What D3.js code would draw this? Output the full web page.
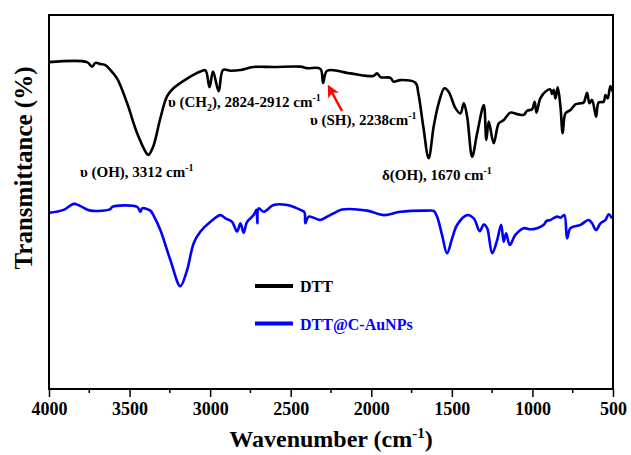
<!DOCTYPE html>
<html>
<head>
<meta charset="utf-8">
<script src="https://cdn.jsdelivr.net/npm/d3@7/dist/d3.min.js"></script>
<style>
  body { margin: 0; background: #fff; }
  text { font-family: "Liberation Serif", "Times New Roman", serif; font-weight: bold; }
</style>
</head>
<body>
<script>
// DTT spectrum (wavenumber cm-1, transmittance %)
var dttWave = [4000,3764,3733,3712,3681,3650,3619,3577,3515,3453,3391,3383,3352,3309,3267,3228,3143,3060,3029,3004,2982,2947,2920,2874,2812,2732,2607,2440,2398,2316,2299,2274,2130,1987,1964,1943,1881,1863,1819,1726,1708,1677,1644,1613,1582,1546,1520,1478,1447,1426,1405,
  1374,1343,1302,1286,1271,1240,1209,1178,1137,1095,1054,1033,1002,986,975,951,920,889,878,868,857,843,826,812,795,764,733,702,682,661,646,630,605,589,558,547,533,516,502];
var dttT = [87.4,87.4,86.2,87.2,86.9,86.6,85.3,83.0,76.4,68.4,62.8,62.6,65.0,72.4,78.3,80.4,83.0,84.9,85.2,80.7,84.9,79.6,85.3,85.1,85.3,86.1,86.1,86.2,85.8,85.6,81.8,85.1,84.4,83.7,84.4,83.4,83.2,82.2,82.6,81.9,79.1,70.1,61.7,70.1,76.4,80.4,79.5,75.1,73.7,76.4,72.8,
  62.1,68.4,75.9,66.6,71.5,65.7,71.0,71.9,73.9,73.5,73.3,74.4,74.8,76.8,73.9,77.7,79.5,80.1,78.9,80.0,77.7,80.7,75.5,68.4,73.7,74.6,76.1,76.4,76.6,79.2,76.4,77.3,72.8,76.6,76.8,78.6,77.7,81.0,79.5];

// DTT@C-AuNPs spectrum
var auWave = [4000,3909,3847,3805,3743,3619,3608,3453,3433,3422,3371,3350,3309,3247,3185,3143,3102,3060,2998,2936,2905,2864,2833,2812,2792,2771,2730,2713,2707,2699,2668,2606,2522,2440,2415,2409,2388,2316,2274,2233,2181,2026,1923,1819,1654,
  1613,1592,1561,1530,1498,1467,1405,1364,1327,1302,1281,1250,1219,1194,1178,1163,1141,1106,1054,1013,971,930,913,889,847,826,802,785,764,702,651,630,605,578,547,527,505];
var auT = [47.1,47.9,49.5,48.9,47.7,48.1,48.7,48.7,47.4,48.3,47.7,46.3,42.5,34.5,27.5,31.8,39.0,42.1,44.7,46.5,45.6,44.7,42.1,44.3,41.8,44.7,46.5,47.9,44.3,48.3,47.4,49.2,49.2,47.9,47.3,44.3,46.1,45.2,46.1,47.0,48.0,47.7,46.5,47.4,47.7,
  47.6,46.1,41.2,36.3,40.3,43.9,46.5,45.6,42.2,44.0,43.0,36.3,39.8,43.9,39.4,41.6,38.5,41.2,43.0,42.7,43.0,43.9,44.9,45.2,46.1,45.8,46.5,40.3,43.0,43.9,45.2,44.3,42.5,44.3,45.2,46.7,45.6];

var xTicks = [4000, 3500, 3000, 2500, 2000, 1500, 1000, 500];
var xMinorTicks = [3750, 3250, 2750, 2250, 1750, 1250, 750];
var seriesNames = ["DTT", "DTT@C-AuNPs"];
var seriesColors = ["#000000", "#0000ff"];

var W = 631, H = 455;
var pLeft = 49, pRight = 613, pTop = 15, pBottom = 389;

var svg = d3.select("body").append("svg")
    .attr("width", W)
    .attr("height", H);

var x = d3.scaleLinear().domain([4000, 500]).range([pLeft, pRight]);
var y = d3.scaleLinear().domain([0, 100]).range([pBottom, pTop]);

var line = d3.line()
    .curve(d3.curveCatmullRom.alpha(0.5))
    .x(function (d) { return x(d[0]); })
    .y(function (d) { return y(d[1]); });

var series = [
    d3.zip(dttWave, dttT),
    d3.zip(auWave, auT)
];

// curves
svg.selectAll("path.spec")
    .data(series)
    .enter()
    .append("path")
    .attr("class", "spec")
    .attr("d", line)
    .attr("fill", "none")
    .attr("stroke", function (d, i) { return seriesColors[i]; })
    .attr("stroke-width", 2.6)
    .attr("stroke-linejoin", "round");

// frame
svg.append("rect")
    .attr("x", pLeft).attr("y", pTop)
    .attr("width", pRight - pLeft).attr("height", pBottom - pTop)
    .attr("fill", "none")
    .attr("stroke", "#000")
    .attr("stroke-width", 2);

// x axis
var xAxis = svg.append("g")
    .attr("transform", "translate(0," + pBottom + ")")
    .call(d3.axisBottom(x).tickValues(xTicks).tickSize(8).tickSizeOuter(0).tickPadding(5).tickFormat(d3.format("d")));
xAxis.select(".domain").remove();
xAxis.selectAll("line").attr("stroke-width", 1.5);
xAxis.selectAll("text")
    .style("font-family", "'Liberation Serif', serif")
    .style("font-weight", "bold")
    .style("font-size", "18px")
    .attr("fill", "#000");

svg.append("g")
    .selectAll("line")
    .data(xMinorTicks)
    .enter()
    .append("line")
    .attr("x1", function (d) { return x(d); })
    .attr("x2", function (d) { return x(d); })
    .attr("y1", pBottom)
    .attr("y2", pBottom + 4)
    .attr("stroke", "#000")
    .attr("stroke-width", 1.5);

// axis titles
var xt = svg.append("text")
    .attr("x", (pLeft + pRight) / 2)
    .attr("y", 447)
    .attr("text-anchor", "middle")
    .style("font-size", "24px");
xt.append("tspan").text("Wavenumber (cm");
xt.append("tspan").attr("dy", -9).style("font-size", "15px").text("-1");
xt.append("tspan").attr("dy", 9).text(")");

svg.append("text")
    .attr("transform", "translate(32,168) rotate(-90)")
    .attr("text-anchor", "middle")
    .style("font-size", "25px")
    .text("Transmittance (%)");

// annotations
function annot(px, py, parts) {
    var t = svg.append("text")
        .attr("x", px).attr("y", py)
        .style("font-size", "15px");
    parts.forEach(function (p) {
        var s = t.append("tspan").text(p.t);
        if (p.sup) s.attr("dy", -6).style("font-size", "10px");
        if (p.sub) s.attr("dy", 4).style("font-size", "10px");
        if (p.back) s.attr("dy", p.back);
    });
}
annot(80, 177, [{t: "\u03c5 (OH), 3312 cm"}, {t: "-1", sup: true}]);
annot(168, 107, [{t: "\u03c5 (CH"}, {t: "2", sub: true}, {t: "), 2824-2912 cm", back: -4}, {t: "-1", sup: true}]);
annot(310, 125, [{t: "\u03c5 (SH), 2238cm"}, {t: "-1", sup: true}]);
annot(382, 180, [{t: "\u03b4(OH), 1670 cm"}, {t: "-1", sup: true}]);

// red arrow
svg.append("defs").append("marker")
    .attr("id", "ah")
    .attr("viewBox", "0 0 10 10")
    .attr("refX", 8).attr("refY", 5)
    .attr("markerWidth", 5).attr("markerHeight", 5)
    .attr("orient", "auto")
    .append("path")
    .attr("d", "M0,0 L10,5 L0,10 L3,5 z")
    .attr("fill", "#ff0000");
svg.append("line")
    .attr("x1", 342).attr("y1", 111)
    .attr("x2", 329).attr("y2", 87)
    .attr("stroke", "#ff0000")
    .attr("stroke-width", 2.5)
    .attr("marker-end", "url(#ah)");

// legend
var leg = svg.append("g")
    .selectAll("g")
    .data(seriesNames)
    .enter()
    .append("g")
    .attr("transform", function (d, i) { return "translate(255," + (286 + i * 37.5) + ")"; });
leg.append("line")
    .attr("x1", 0).attr("x2", 38)
    .attr("stroke", function (d, i) { return seriesColors[i]; })
    .attr("stroke-width", 4);
leg.append("text")
    .attr("x", 45).attr("y", 6)
    .style("font-size", "16px")
    .attr("fill", function (d, i) { return seriesColors[i]; })
    .text(function (d) { return d; });
</script>
</body>
</html>
